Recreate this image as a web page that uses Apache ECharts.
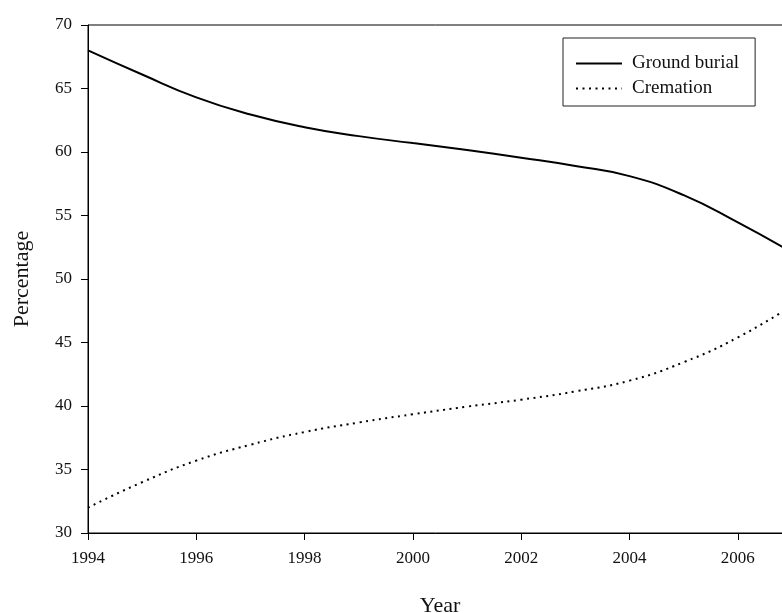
<!DOCTYPE html>
<html>
<head>
<meta charset="utf-8">
<script src="https://cdn.jsdelivr.net/npm/echarts@6/dist/echarts.min.js"></script>
<style>html,body{margin:0;padding:0;background:#fff}#c{width:782px;height:613px}</style>
</head>
<body>
<div id="c"></div>
<script>
const years = [1994,1995,1996,1997,1998,1999,2000,2001,2002,2003,2004,2005,2006,2007];
const groundBurial = [68.0,66.1,64.3,62.95,61.95,61.25,60.7,60.15,59.55,58.9,58.1,56.6,54.45,52.1];
const cremation = [32.0,34.0,35.7,36.95,37.95,38.7,39.35,39.95,40.5,41.15,42.0,43.45,45.4,47.9];
const seriesNames = ['Ground burial','Cremation'];

const FONT = '"Liberation Serif", "Times New Roman", serif';
const chart = echarts.init(document.getElementById('c'));
chart.setOption({
  animation: false,
  backgroundColor: '#fff',
  textStyle: { fontFamily: FONT },
  grid: { left: 88, top: 25, bottom: 80, right: -10, containLabel: false, outerBoundsMode: 'none',
    show: true, borderColor: '#000', borderWidth: 1 },
  legend: {
    orient: 'vertical', left: 563, top: 38,
    padding: [16, 16, 8, 12], itemGap: 6, itemWidth: 46, itemHeight: 14,
    borderColor: '#222', borderWidth: 1,
    itemStyle: { opacity: 0 },
    textStyle: { fontFamily: FONT, fontSize: 19, color: '#111', padding: [0,0,0,5] },
    data: seriesNames
  },
  xAxis: {
    type: 'value', min: 1994, max: 2007, interval: 2,
    name: 'Year', nameLocation: 'middle', nameGap: 62,
    nameTextStyle: { fontFamily: FONT, fontSize: 22, color: '#111' },
    axisLine: { lineStyle: { color: '#000', width: 1 } },
    axisTick: { length: 7, lineStyle: { color: '#000' } },
    axisLabel: { fontFamily: FONT, fontSize: 17, color: '#111', margin: 17, showMaxLabel: false,
      formatter: v => (v % 2 === 0 ? String(v) : '') },
    splitLine: { show: false }
  },
  yAxis: {
    type: 'value', min: 30, max: 70, interval: 5,
    name: 'Percentage', nameLocation: 'middle', nameGap: 55, nameRotate: 90,
    nameTextStyle: { fontFamily: FONT, fontSize: 22, color: '#111' },
    axisLine: { show: true, lineStyle: { color: '#000', width: 1 } },
    axisTick: { show: true, length: 7, lineStyle: { color: '#000' } },
    axisLabel: { fontFamily: FONT, fontSize: 17, color: '#111', margin: 16 },
    splitLine: { show: false }
  },
  series: [
    { name: seriesNames[0], type: 'line', smooth: 0.5, symbol: 'none',
      data: years.map((y,i) => [y, groundBurial[i]]),
      lineStyle: { color: '#000', width: 2, type: 'solid' }, itemStyle: { color: '#000' } },
    { name: seriesNames[1], type: 'line', smooth: 0.5, symbol: 'none',
      data: years.map((y,i) => [y, cremation[i]]),
      lineStyle: { color: '#000', width: 2, type: [2, 4.5] }, itemStyle: { color: '#000' } }
  ]
});
</script>
</body>
</html>
